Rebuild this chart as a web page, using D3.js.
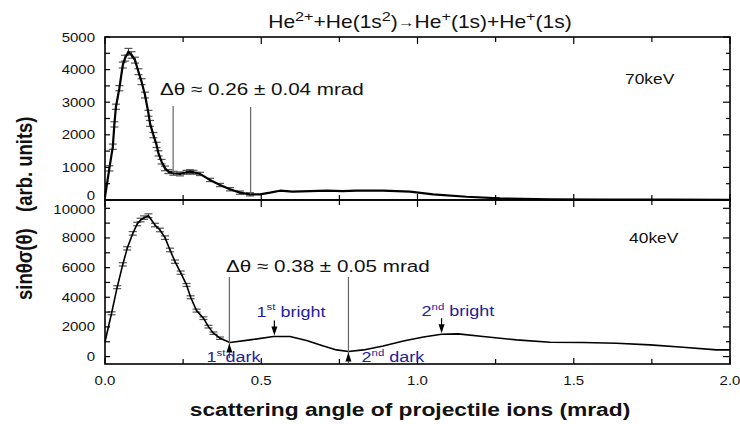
<!DOCTYPE html>
<meta charset="utf-8">
<head>
<script src="https://d3js.org/d3.v7.min.js"></script>
<style>
body { margin: 0; background: #fff; }
text { font-family: "Liberation Sans", Arial, Helvetica, sans-serif; }
</style>
</head>
<body>
<script>

// ---- data ----
// 70 keV panel (upper)
var angle70  = [0.000,0.014,0.025,0.030,0.035,0.046,0.057,0.064,0.075,0.085,0.096,0.107,0.117,0.128,0.139,0.144,0.155,0.165,0.171,0.181,0.192,0.203,0.219,0.240,0.261,0.272,0.283,0.304,0.336,0.368,0.400,0.432,0.464,0.496,0.528,0.560,0.600,0.656,0.710,0.760,0.805,0.890,0.976,1.050,1.157,1.264,1.424,1.600,1.800,2.000];
var signal70 = [100,970,1635,2320,2860,3430,4140,4350,4550,4450,4290,3935,3630,3220,2660,2350,1990,1690,1430,1175,970,870,820,800,850,870,850,800,615,460,330,225,175,175,225,285,255,275,285,275,285,285,255,175,100,50,20,12,10,8];
var error70  = [0,80,80,80,80,80,90,90,100,100,90,90,90,90,90,90,80,80,80,70,70,60,60,60,60,60,60,50,50,50,50,50,50,0,0,0,0,0,0,0,0,0,0,0,0,0,0,0,0,0];

// 40 keV panel (lower)
var angle40  = [0.000,0.021,0.039,0.057,0.071,0.089,0.103,0.114,0.125,0.139,0.160,0.176,0.192,0.208,0.224,0.242,0.261,0.274,0.293,0.315,0.331,0.347,0.368,0.400,0.464,0.539,0.592,0.645,0.699,0.741,0.779,0.827,0.890,0.955,1.019,1.077,1.130,1.210,1.317,1.424,1.530,1.637,1.744,1.850,1.957,2.000];
var signal40 = [1000,2920,4680,6220,7300,8310,8940,9210,9370,9500,8870,8540,8020,7190,6400,5660,4830,4000,3100,2590,2020,1580,1240,945,1125,1350,1350,1080,720,450,340,450,720,1050,1320,1510,1530,1350,1125,970,945,900,790,630,450,450];
var error40  = [0,100,100,110,110,120,120,120,120,130,120,120,120,120,110,110,100,100,100,90,90,80,80,0,0,0,0,0,0,0,0,0,0,0,0,0,0,0,0,0,0,0,0,0,0,0];

var xTicks     = [0, 0.5, 1.0, 1.5, 2.0];
var xMinor     = [0.25, 0.75, 1.25, 1.75];
var yTicks70   = [0, 1000, 2000, 3000, 4000, 5000];
var yMinor70   = [500, 1500, 2500, 3500, 4500];
var yTicks40   = [0, 2000, 4000, 6000, 8000, 10000];
var yMinor40   = [1000, 3000, 5000, 7000, 9000];

// Δθ markers (angle, top value, bottom value)
var delta70 = [[0.218, 2880, 820], [0.466, 2850, 175]];
var delta40 = [[0.398, 5370, -90], [0.779, 5370, -430]];
var darkAngles   = [0.398, 0.779];
var darkValues   = [945, 340];
var brightAngles = [0.542, 1.077];
var brightValues = [1350, 1510];

// ---- layout ----
var W = 740, H = 424;
var left = 105, right = 730;
var sx = 1.2;           // the original figure is stretched horizontally
var blue = "#22229c";

var svg = d3.select("body").append("svg")
    .attr("width", W)
    .attr("height", H);

var x = d3.scaleLinear().domain([0, 2]).range([left, right]);
var y70 = d3.scaleLinear().domain([0, 5000]).range([200, 37]);
var y40 = d3.scaleLinear().domain([-500, 10560]).range([364, 200]);

function label(x0, y0, str, size, opts) {
  opts = opts || {};
  var t = svg.append("text")
    .attr("transform", "translate(" + x0 + "," + y0 + ") scale(" + sx + ",1)" + (opts.rotate ? " rotate(-90)" : ""))
    .attr("text-anchor", opts.anchor || "start")
    .style("font-size", size + "px")
    .style("font-weight", opts.bold ? "bold" : null)
    .style("fill", opts.color || "#111");
  if (str) t.text(str);
  return t;
}

// text with superscript pieces: parts = [[text, isSup, ownSize, dy], ...]
function richLabel(x0, y0, parts, size, supSize, opts) {
  var t = label(x0, y0, null, size, opts);
  var raised = false;
  parts.forEach(function(p) {
    var ts = t.append("tspan").text(p[0]);
    var dy = 0;
    if (p[1] && !raised) { dy = -size * 0.42; ts.style("font-size", supSize + "px"); raised = true; }
    else if (p[1]) { ts.style("font-size", supSize + "px"); }
    else if (raised) { dy = size * 0.42; raised = false; }
    if (p[2]) ts.style("font-size", p[2] + "px");
    if (p[3]) dy += p[3];
    if (dy) ts.attr("dy", dy);
  });
  return t;
}

function drawPanel(y, yTicks, yMinor, top, bottom, angle, signal, error, lineWidth) {
  var g = svg.append("g");

  var line = d3.line()
      .x(function(d, i) { return x(angle[i]); })
      .y(function(d) { return y(d); });

  // error bars
  signal.forEach(function(v, i) {
    if (!error[i]) return;
    var cx = x(angle[i]);
    var e = error[i];
    g.append("line").attr("x1", cx).attr("x2", cx)
      .attr("y1", y(v - e)).attr("y2", y(v + e))
      .attr("stroke", "#333").attr("stroke-width", 1);
    [v - e, v + e].forEach(function(c) {
      g.append("line").attr("x1", cx - 4).attr("x2", cx + 4)
        .attr("y1", y(c)).attr("y2", y(c))
        .attr("stroke", "#555").attr("stroke-width", 1.2);
    });
  });

  g.append("path").datum(signal)
    .attr("d", line)
    .attr("fill", "none")
    .attr("stroke", "#000")
    .attr("stroke-width", lineWidth)
    .attr("stroke-linejoin", "round");

  // frame
  g.append("rect")
    .attr("x", left).attr("y", top)
    .attr("width", right - left).attr("height", bottom - top)
    .attr("fill", "none").attr("stroke", "#000").attr("stroke-width", 1.6);

  // inward ticks on all four sides
  function tick(x1, y1, x2, y2) {
    g.append("line").attr("x1", x1).attr("y1", y1).attr("x2", x2).attr("y2", y2)
      .attr("stroke", "#000").attr("stroke-width", 1.2);
  }
  yTicks.forEach(function(v) {
    tick(left, y(v), left + 5, y(v));
    tick(right, y(v), right - 7, y(v));
  });
  yMinor.forEach(function(v) {
    tick(left, y(v), left + 5, y(v));
    tick(right, y(v), right - 4, y(v));
  });
  xTicks.forEach(function(v) {
    tick(x(v), top, x(v), top + 7);
    tick(x(v), bottom, x(v), bottom - 6);
  });
  xMinor.forEach(function(v) {
    tick(x(v), top, x(v), top + 5);
    tick(x(v), bottom, x(v), bottom - 5);
  });

  // y tick labels
  yTicks.forEach(function(v) {
    var yy = y(v) + 4.5;
    if (v === 0 && top < 100) yy -= 5;
    if (v === 10000) yy += 1;
    label(left - 10, yy, String(v), 12.5, { anchor: "end" });
  });
  return g;
}

drawPanel(y70, yTicks70, yMinor70, 37, 200, angle70, signal70, error70, 2.2);
drawPanel(y40, yTicks40, yMinor40, 200, 364, angle40, signal40, error40, 1.6);

// x tick labels
xTicks.forEach(function(v) {
  label(x(v), 385, v.toFixed(1), 12.5, { anchor: "middle" });
});

// axis titles
label(410, 416, "scattering angle of projectile ions (mrad)", 19, { anchor: "middle", bold: true });
label(32, 300, "sin\u03b8\u03c3(\u03b8)", 18.5, { bold: true, rotate: true });
label(32, 212, "(arb. units)", 18.5, { bold: true, rotate: true });

// chart title
richLabel(420, 28, [
  ["He"], ["2+", true], ["+He(1s"], ["2", true], [")"], ["\u2192", false, 14, -1],
  ["He", false, 0, 1], ["+", true], ["(1s)+He"], ["+", true], ["(1s)"]
], 17.5, 13.5, { anchor: "middle" });

// energy labels
label(x(1.664), y70(3560), "70keV", 14.5);
label(x(1.677), y40(7680), "40keV", 14.5);

// Δθ lines
function vline(a, y, v1, v2) {
  svg.append("line")
    .attr("x1", x(a)).attr("x2", x(a))
    .attr("y1", y(v1)).attr("y2", y(v2))
    .attr("stroke", "#666").attr("stroke-width", 1.2);
}
delta70.forEach(function(d) { vline(d[0], y70, d[1], d[2]); });
delta40.forEach(function(d) { vline(d[0], y40, d[1], d[2]); });

label(x(0.176), y70(3220), "\u0394\u03b8 \u2248 0.26 \u00b1 0.04 mrad", 17.2);
label(x(0.387), y40(5710), "\u0394\u03b8 \u2248 0.38 \u00b1 0.05 mrad", 17.2);

// arrow heads
function arrowHead(px, py, dir) {
  // dir = -1 points up, +1 points down; tip at (px, py)
  svg.append("path")
    .attr("d", "M" + px + "," + py + "L" + (px - 3) + "," + (py - dir * 9) + "L" + (px + 3) + "," + (py - dir * 9) + "Z")
    .attr("fill", "#000");
}
darkAngles.forEach(function(a, i) {
  arrowHead(x(a), y40(darkValues[i]) + 1, -1);
});
brightAngles.forEach(function(a, i) {
  var tipY = y40(brightValues[i]) - 1;
  svg.append("line")
    .attr("x1", x(a)).attr("x2", x(a))
    .attr("y1", tipY - 15).attr("y2", tipY - 4)
    .attr("stroke", "#000").attr("stroke-width", 1.2);
  arrowHead(x(a), tipY, 1);
});

// fringe labels
richLabel(x(0.485), y40(2700), [["1"], ["st", true], [" bright"]], 15, 9.5, { color: blue });
richLabel(x(1.013), y40(2740), [["2"], ["nd", true], [" bright"]], 15, 9.5, { color: blue });
richLabel(x(0.325), y40(-360), [["1"], ["st", true], ["dark"]], 15, 9.5, { color: blue });
richLabel(x(0.821), y40(-360), [["2"], ["nd", true], [" dark"]], 15, 9.5, { color: blue });

</script>
</body>
